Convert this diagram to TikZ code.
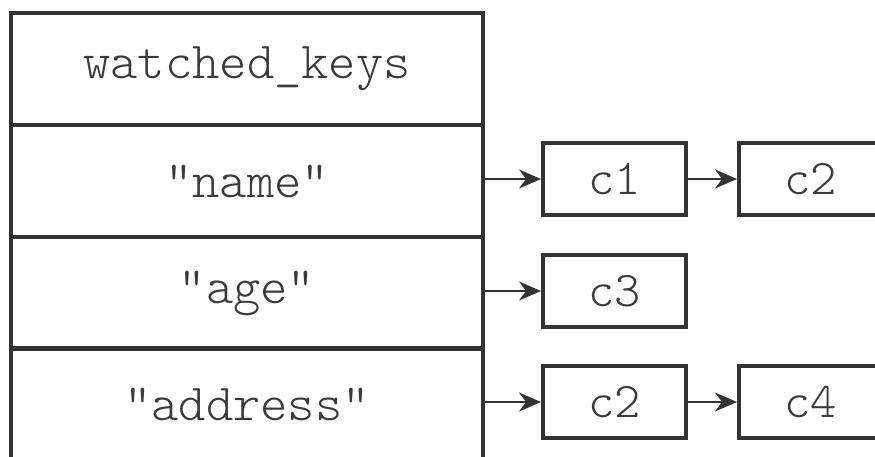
\documentclass[tikz,border=0pt]{standalone}
\usepackage{fontspec}
\setmonofont{Latin Modern Mono Light}
\usetikzlibrary{arrows.meta}
\definecolor{ln}{HTML}{333333}
\definecolor{tx}{HTML}{3A3A3A}
\tikzset{
  rowbox/.style={draw=ln, line width=4pt, minimum width=472pt, minimum height=112pt, inner sep=0pt, text=tx, font=\ttfamily\fontsize{52}{52}\selectfont},
  cbox/.style={draw=ln, line width=4pt, minimum width=143pt, minimum height=72pt, inner sep=0pt, text=tx, font=\ttfamily\fontsize{50}{50}\selectfont},
  link/.style={draw=ln, line width=2pt, -{Stealth[length=22pt,width=19pt]}}
}
\begin{document}
\begin{tikzpicture}[x=1pt,y=-1pt]
\useasboundingbox (0,0) rectangle (875,456);
\node[rowbox] (wk) at (247,69) {\raisebox{2pt}{watched\_keys}};
\node[rowbox] (name) at (247,181) {"name"};
\node[rowbox] (age) at (247,293) {"age"};
\node[rowbox] (addr) at (247,404) {"address"};
\node[cbox] (c1) at (614.5,179) {c1};
\node[cbox] (c2a) at (810.5,179) {c2};
\node[cbox] (c3) at (614.5,291) {c3};
\node[cbox] (c2b) at (614.5,402) {c2};
\node[cbox] (c4) at (810.5,402) {c4};
\draw[link] (name.east |- c1.west) -- (c1.west);
\draw[link] (c1.east) -- (c2a.west);
\draw[link] (age.east |- c3.west) -- (c3.west);
\draw[link] (addr.east |- c2b.west) -- (c2b.west);
\draw[link] (c2b.east) -- (c4.west);
\end{tikzpicture}
\end{document}
